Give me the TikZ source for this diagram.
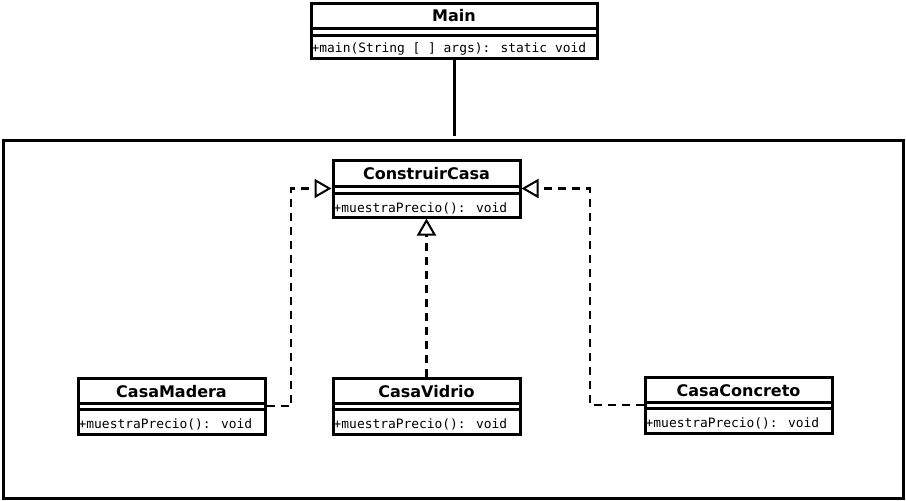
\documentclass[tikz,border=0pt]{standalone}
\usepackage{fontspec}
\setmainfont{DejaVu Sans}
\newfontfamily\metfont{DejaVu Sans Mono}
\usetikzlibrary{arrows.meta,calc}

\begin{document}
\begin{tikzpicture}[x=1pt,y=-1pt,
  clase/.style={draw,line width=3pt,inner sep=0pt},
  titulo/.style={font=\bfseries\fontsize{16}{18}\selectfont},
  metodo/.style={anchor=west,inner sep=0pt,font=\metfont\fontsize{12.9}{15}\selectfont},
  sep/.style={line width=3pt},
  realiza/.style={line width=2.2pt,dash pattern=on 8pt off 6pt,-{Triangle[open,length=17pt,width=19pt,fill=white,line width=2pt]}}]
  \useasboundingbox (0,0) rectangle (906,501);
  % marco del paquete
  \node [draw,line width=3pt,minimum width=900pt,minimum height=358pt] (marco) at (453,319) {};
  % clase Main
  \node [clase,minimum width=286pt,minimum height=55pt] (main) at (454,30.5) {};
  \node [titulo] (mainT) at ($(main.north)+(0,14.5)$) {Main};
  \draw [sep] ($(main.north west)+(0,27)$) -- ($(main.north east)+(0,27)$);
  \draw [sep] ($(main.north west)+(0,34)$) -- ($(main.north east)+(0,34)$);
  \node [metodo] (mainM) at ($(main.south west)+(2,-10.5)$) {+main(String [ ] args): static void};
  % interfaz ConstruirCasa
  \node [clase,minimum width=187pt,minimum height=57pt] (construir) at (426.5,188.5) {};
  \node [titulo] (construirT) at ($(construir.north)+(0,15.5)$) {ConstruirCasa};
  \draw [sep] ($(construir.north west)+(0,28)$) -- ($(construir.north east)+(0,28)$);
  \draw [sep] ($(construir.north west)+(0,35)$) -- ($(construir.north east)+(0,35)$);
  \node [metodo] (construirM) at ($(construir.south west)+(2,-10.5)$) {+muestraPrecio(): void};
  % CasaMadera
  \node [clase,minimum width=187pt,minimum height=56pt] (madera) at (171.5,406) {};
  \node [titulo] (maderaT) at ($(madera.north)+(0,15)$) {CasaMadera};
  \draw [sep] ($(madera.north west)+(0,27)$) -- ($(madera.north east)+(0,27)$);
  \draw [sep] ($(madera.north west)+(0,33)$) -- ($(madera.north east)+(0,33)$);
  \node [metodo] (maderaM) at ($(madera.south west)+(2,-11)$) {+muestraPrecio(): void};
  % CasaVidrio
  \node [clase,minimum width=187pt,minimum height=56pt] (vidrio) at (426.5,406) {};
  \node [titulo] (vidrioT) at ($(vidrio.north)+(0,15)$) {CasaVidrio};
  \draw [sep] ($(vidrio.north west)+(0,27)$) -- ($(vidrio.north east)+(0,27)$);
  \draw [sep] ($(vidrio.north west)+(0,33)$) -- ($(vidrio.north east)+(0,33)$);
  \node [metodo] (vidrioM) at ($(vidrio.south west)+(2,-11)$) {+muestraPrecio(): void};
  % CasaConcreto
  \node [clase,minimum width=187pt,minimum height=56pt] (concreto) at (738.5,405) {};
  \node [titulo] (concretoT) at ($(concreto.north)+(0,15)$) {CasaConcreto};
  \draw [sep] ($(concreto.north west)+(0,27)$) -- ($(concreto.north east)+(0,27)$);
  \draw [sep] ($(concreto.north west)+(0,33)$) -- ($(concreto.north east)+(0,33)$);
  \node [metodo] (concretoM) at ($(concreto.south west)+(2,-11)$) {+muestraPrecio(): void};
  % conectores
  \coordinate (codoI) at (291,188.5);
  \coordinate (codoD) at (590,188.5);
  \draw [line width=3pt] (main.south) -- ($(main.south |- marco.north)+(0,-3)$);
  \draw [realiza] (madera.east) -| (codoI) -- (construir.west);
  \draw [realiza] (vidrio.north) -- (construir.south);
  \draw [realiza] (concreto.west) -| (codoD) -- (construir.east);
\end{tikzpicture}
\end{document}
